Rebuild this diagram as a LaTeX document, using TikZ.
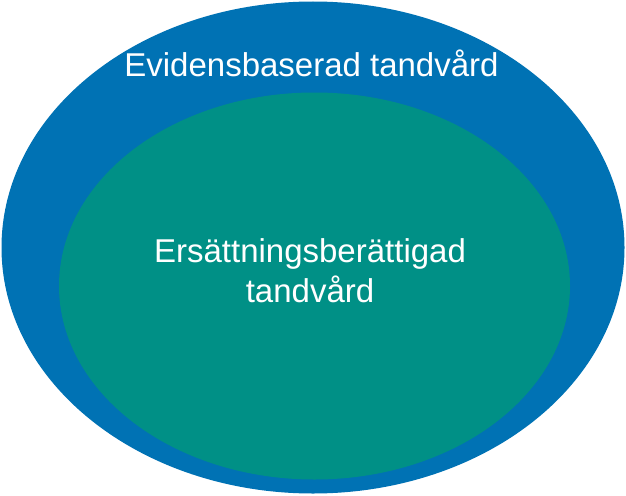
\documentclass[tikz,border=0pt]{standalone}
\usepackage{fontspec}
\setmainfont{Liberation Sans}
\usetikzlibrary{shapes.geometric}
\definecolor{outerblue}{RGB}{0,114,180}
\definecolor{innerteal}{RGB}{0,144,134}
\tikzset{
    region/.style={ellipse, inner sep=0pt, draw=none},
    label text/.style={text=white, inner sep=0pt, font=\fontsize{33}{40}\selectfont}
}

\begin{document}
\begin{tikzpicture}[x=1pt, y=-1pt]
    \useasboundingbox (0,0) rectangle (626,495);
    % Draw the two regions
    \node (evidence) [region, fill=outerblue, minimum width=623pt, minimum height=492pt] at (313,247.5) {};
    \node (refund) [region, fill=innerteal, minimum width=511pt, minimum height=387pt] at (314.5,286) {};
    % Labels
    \node (evidence_label) [label text, anchor=base] at (311.5,76) {Evidensbaserad tandvård};
    \node (refund_label) [label text, anchor=base] at (310,262) {Ersättningsberättigad};
    \node (refund_label2) [label text, anchor=base] at (310,302) {tandvård};
\end{tikzpicture}
\end{document}
